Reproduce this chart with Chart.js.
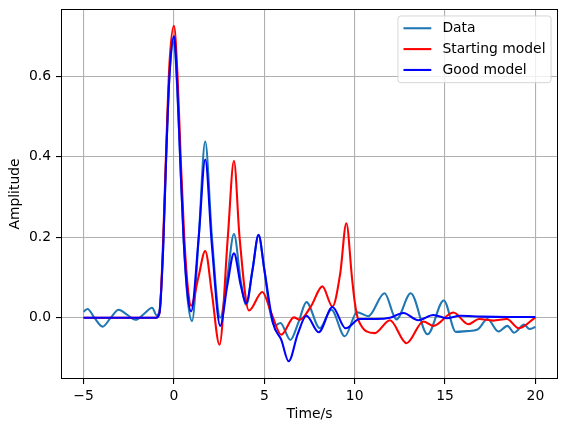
<!DOCTYPE html>
<html>
<head>
<meta charset="utf-8">
<script src="https://cdn.jsdelivr.net/npm/chart.js@4/dist/chart.umd.min.js"></script>
<style>
  html, body { margin: 0; padding: 0; background: #fff; }
</style>
</head>
<body>
<canvas id="chart" width="567" height="432"></canvas>
<script>
// Observed waveform (blue-ish "Data" line)
const dataTime = [-5.0, -4.78, -4.4, -3.95, -3.5, -3.06, -2.6, -2.13, -1.65, -1.21, -0.95, -0.8,
  -0.6, -0.43, -0.25, 0.0, 0.18, 0.34, 0.53, 0.75, 1.0, 1.37, 1.73, 2.1, 2.56, 2.95, 3.32, 3.7,
  4.0, 4.35, 4.68, 5.0, 5.3, 5.57, 5.89, 6.44, 6.9, 7.33, 8.07, 8.71, 9.45, 10.13, 10.75, 11.65,
  12.31, 13.1, 14.03, 14.93, 15.6, 16.2, 16.8, 17.35, 17.95, 18.45, 18.82, 19.38, 19.67, 20.0];
const dataAmp = [0.015, 0.022, 0.0, -0.022, 0.0, 0.02, 0.008, -0.005, 0.01, 0.025, 0.006, 0.018,
  0.17, 0.4, 0.6, 0.685, 0.57, 0.4, 0.2, 0.05, -0.008, 0.2, 0.438, 0.2, 0.0, 0.1, 0.208, 0.09,
  0.032, 0.12, 0.205, 0.12, 0.02, -0.02, -0.013, -0.055, -0.01, 0.039, -0.026, 0.02, -0.046, 0.014, 0.004, 0.061,
  -0.004, 0.061, -0.041, 0.043, -0.035, -0.033, -0.029, -0.003, -0.034, -0.02, -0.037, -0.017, -0.028, -0.023];

// Starting model (red)
const startTime = [-5.0, -1.0, -0.8, -0.6, -0.43, -0.25, 0.0, 0.2, 0.37, 0.57, 0.78, 0.95, 1.35,
  1.73, 2.1, 2.52, 2.98, 3.32, 3.63, 4.15, 4.89, 5.4, 5.94, 6.64, 6.96, 7.6, 8.21, 8.77, 9.2,
  9.54, 9.85, 10.0, 10.2, 11.11, 11.95, 12.87, 13.8, 14.35, 15.46, 16.29, 16.88, 17.67, 18.42,
  19.08, 20.0];
const startAmp = [0.0, 0.0, 0.012, 0.19, 0.42, 0.63, 0.725, 0.6, 0.4, 0.2, 0.07, 0.03, 0.1,
  0.166, 0.06, -0.067, 0.2, 0.39, 0.2, 0.018, 0.064, 0.01, -0.042, 0.001, -0.005, 0.03, 0.078, 0.028, 0.11,
  0.235, 0.1, 0.04, -0.005, -0.038, -0.006, -0.063, -0.009, -0.02, 0.013, -0.016, -0.003, -0.007, -0.003,
  -0.026, 0.001];

// Good model (blue)
const goodTime = [-5.0, -1.0, -0.8, -0.6, -0.43, -0.25, 0.0, 0.18, 0.34, 0.53, 0.75, 0.95, 1.37,
  1.73, 2.1, 2.56, 2.95, 3.32, 3.7, 4.0, 4.35, 4.68, 5.0, 5.48, 5.94, 6.35, 6.85, 7.33, 8.01,
  8.77, 9.5, 10.28, 11.2, 11.95, 12.7, 13.52, 14.35, 15.09, 15.83, 17.0, 18.5, 20.0];
const goodAmp = [0.0, 0.0, 0.012, 0.17, 0.4, 0.6, 0.70, 0.58, 0.4, 0.2, 0.06, 0.016, 0.2,
  0.393, 0.18, -0.02, 0.08, 0.16, 0.08, 0.036, 0.12, 0.206, 0.12, -0.013, -0.055, -0.108, -0.04, 0.005, -0.036,
  0.027, -0.026, -0.003, -0.003, 0.0, 0.012, -0.006, 0.007, -0.001, 0.005, 0.003, 0.002, 0.002];

const seriesNames = ['Data', 'Starting model', 'Good model'];
const seriesColors = ['#1f77b4', '#ff0000', '#0000ff'];

const xTicks = [-5, 0, 5, 10, 15, 20];
const xTickLabels = ['\u22125', '0', '5', '10', '15', '20'];
const yTicks = [0.0, 0.2, 0.4, 0.6];
const yTickLabels = ['0.0', '0.2', '0.4', '0.6'];
const xLimits = [-6.25, 21.25];
const yLimits = [-0.152, 0.767];

const FONT = 'DejaVu Sans';
const FS = 13.9;

const toPoints = (xs, ys) => xs.map((x, i) => ({ x: x, y: ys[i] }));

function makeSet(idx, xs, ys, order) {
  return {
    label: seriesNames[idx],
    data: toPoints(xs, ys),
    borderColor: seriesColors[idx],
    borderWidth: 2.08,
    pointRadius: 0,
    fill: false,
    cubicInterpolationMode: 'monotone',
    order: order
  };
}

// axes frame on all four sides (matplotlib spines)
const framePlugin = {
  id: 'frame',
  afterDatasetsDraw(chart) {
    const { ctx, chartArea: a } = chart;
    ctx.save();
    ctx.strokeStyle = '#000';
    ctx.lineWidth = 1;
    ctx.strokeRect(Math.round(a.left) + 0.5, Math.round(a.top) + 0.5,
      Math.round(a.right - a.left) - 1, Math.round(a.bottom - a.top) - 1);
    ctx.restore();
  }
};

// boxed legend in the upper right corner of the plot
const legendPlugin = {
  id: 'boxLegend',
  afterDraw(chart) {
    const { ctx, chartArea: a } = chart;
    const sets = chart.data.datasets;
    ctx.save();
    ctx.font = FS + 'px "' + FONT + '"';
    const textW = Math.max(...sets.map(s => ctx.measureText(s.label).width));
    const pad = 0.4 * FS, handle = 2 * FS, gap = 0.8 * FS, rowH = 20.85;
    const w = pad + handle + gap + textW + pad;
    const h = 66.7;
    const x0 = a.right - 0.5 * FS - w;
    const y0 = a.top + 0.5 * FS;
    const r = 3;
    ctx.beginPath();
    ctx.moveTo(x0 + r, y0);
    ctx.arcTo(x0 + w, y0, x0 + w, y0 + h, r);
    ctx.arcTo(x0 + w, y0 + h, x0, y0 + h, r);
    ctx.arcTo(x0, y0 + h, x0, y0, r);
    ctx.arcTo(x0, y0, x0 + w, y0, r);
    ctx.closePath();
    ctx.fillStyle = 'rgba(255,255,255,0.8)';
    ctx.fill();
    ctx.strokeStyle = 'rgba(204,204,204,0.8)';
    ctx.lineWidth = 1;
    ctx.stroke();
    sets.forEach((s, i) => {
      const cy = y0 + 12.3 + i * rowH;
      ctx.beginPath();
      ctx.moveTo(x0 + pad, cy);
      ctx.lineTo(x0 + pad + handle, cy);
      ctx.strokeStyle = s.borderColor;
      ctx.lineWidth = 2.08;
      ctx.stroke();
      ctx.fillStyle = '#000';
      ctx.textAlign = 'left';
      ctx.textBaseline = 'middle';
      ctx.fillText(s.label, x0 + pad + handle + gap, cy);
    });
    ctx.restore();
  }
};

const ctx = document.getElementById('chart');
new Chart(ctx, {
  type: 'line',
  data: {
    datasets: [
      makeSet(0, dataTime, dataAmp, 3),
      makeSet(1, startTime, startAmp, 2),
      makeSet(2, goodTime, goodAmp, 1)
    ]
  },
  options: {
    responsive: false,
    animation: false,
    devicePixelRatio: 1,
    layout: { padding: { top: 9, right: 9, left: 0, bottom: 0 } },
    plugins: {
      legend: { display: false },
      tooltip: { enabled: false }
    },
    scales: {
      x: {
        type: 'linear',
        min: xLimits[0],
        max: xLimits[1],
        afterBuildTicks: s => { s.ticks = xTicks.map(v => ({ value: v })); },
        afterFit: s => { s.height = 53; s.paddingLeft = 0; s.paddingRight = 0; },
        border: { display: false },
        grid: { color: '#b0b0b0', lineWidth: 1.1, tickColor: '#000', tickLength: 5 },
        ticks: {
          color: '#000',
          padding: 4,
          maxRotation: 0,
          font: { family: FONT, size: FS },
          callback: v => xTickLabels[xTicks.indexOf(v)]
        },
        title: {
          display: true,
          text: 'Time/s',
          color: '#000',
          font: { family: FONT, size: FS },
          padding: { top: 0, bottom: 9 }
        }
      },
      y: {
        type: 'linear',
        min: yLimits[0],
        max: yLimits[1],
        afterBuildTicks: s => { s.ticks = yTicks.map(v => ({ value: v })); },
        afterFit: s => { s.width = 61; s.paddingTop = 0; s.paddingBottom = 0; },
        border: { display: false },
        grid: { color: '#b0b0b0', lineWidth: 1.1, tickColor: '#000', tickLength: 5 },
        ticks: {
          color: '#000',
          padding: 5,
          font: { family: FONT, size: FS },
          callback: v => yTickLabels[yTicks.indexOf(v)]
        },
        title: {
          display: true,
          text: 'Amplitude',
          color: '#000',
          font: { family: FONT, size: FS },
          padding: { top: 7, bottom: 0 }
        }
      }
    }
  },
  plugins: [framePlugin, legendPlugin]
});
</script>
</body>
</html>
